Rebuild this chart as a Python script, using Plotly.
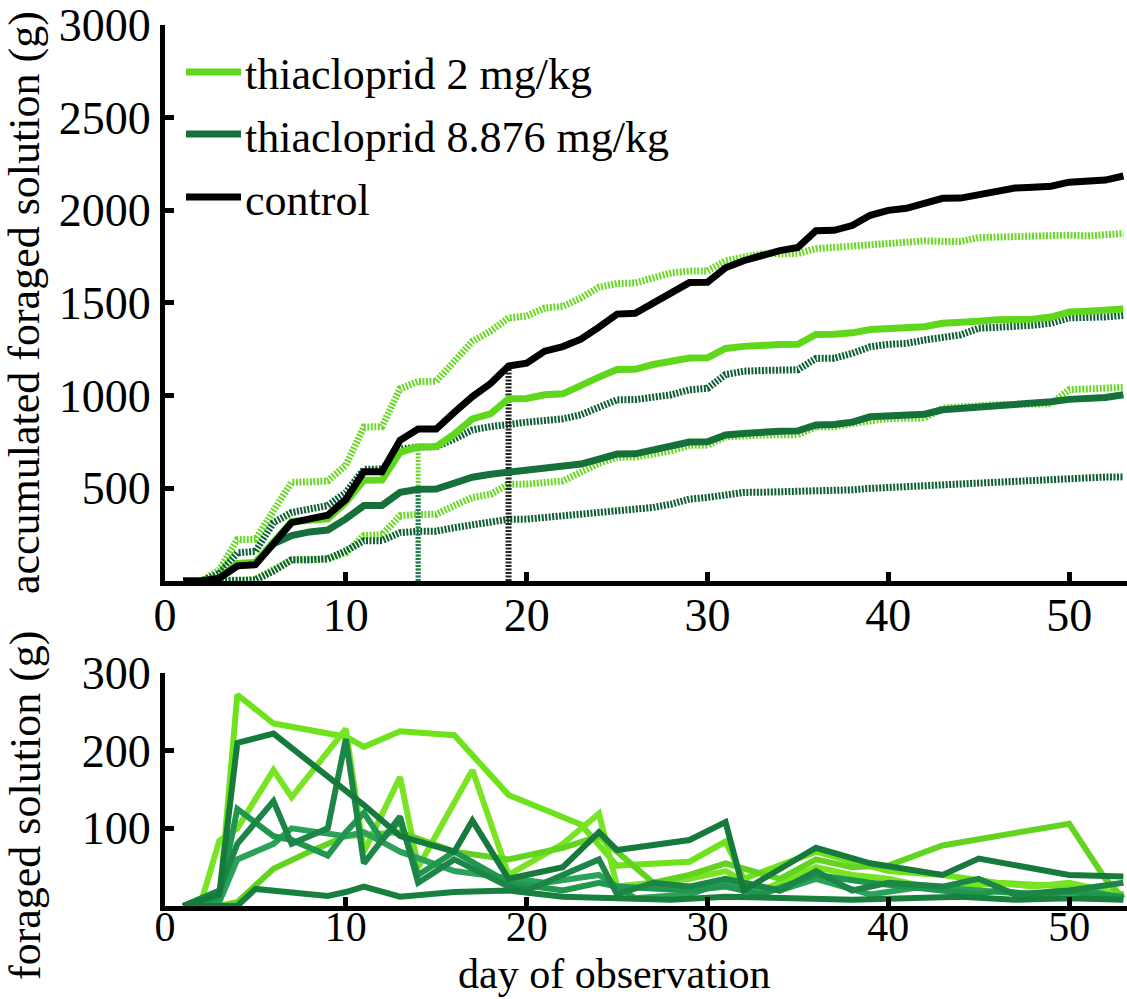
import plotly.graph_objects as go

# ---------------- data (top panel: accumulated foraged solution, g) ----------------
days = list(range(1, 54))

control = [0, 0, 15, 82, 88, 200, 315, 335, 355, 440, 590, 590, 760, 820, 820, 910, 995, 1065, 1160, 1175,
           1240, 1265, 1305, 1370, 1440, 1445, 1500, 1550, 1610, 1612, 1690, 1728, 1755, 1783, 1800, 1890,
           1892, 1918, 1973, 2000, 2011, 2038, 2065, 2066, 2082, 2103, 2120, 2125, 2130, 2152, 2153, 2163, 2185]

thia2 = [0, 0, 15, 95, 100, 210, 320, 328, 335, 424, 543, 545, 696, 723, 725, 793, 875, 902, 984, 985,
         1005, 1010, 1060, 1100, 1141, 1142, 1168, 1185, 1203, 1204, 1255, 1266, 1275, 1276, 1277, 1330,
         1331, 1339, 1357, 1364, 1368, 1372, 1391, 1392, 1402, 1410, 1411, 1412, 1424, 1451, 1456, 1460, 1467]

thia2_hi = [0, 0, 60, 223, 225, 380, 533, 535, 540, 625, 831, 833, 1038, 1076, 1078, 1185, 1293, 1348, 1420,
            1429, 1473, 1482, 1527, 1585, 1605, 1608, 1633, 1663, 1672, 1673, 1728, 1746, 1765, 1766, 1767,
            1793, 1800, 1810, 1820, 1824, 1830, 1835, 1832, 1832, 1853, 1857, 1860, 1861, 1870, 1866, 1862,
            1866, 1875]

thia2_lo = [0, 0, 0, 0, 10, 60, 114, 115, 118, 152, 245, 250, 353, 359, 360, 407, 451, 468, 522, 523, 530,
            540, 587, 635, 668, 669, 685, 703, 732, 733, 778, 787, 788, 789, 790, 832, 833, 850, 868, 877,
            878, 879, 933, 941, 950, 951, 952, 953, 957, 1032, 1038, 1039, 1045]

thia8 = [0, 0, 15, 80, 100, 200, 245, 265, 275, 335, 407, 408, 478, 495, 496, 532, 560, 576, 587, 596, 604,
         612, 631, 658, 685, 686, 706, 724, 750, 751, 788, 796, 805, 808, 810, 842, 845, 857, 886, 890, 893,
         900, 924, 930, 940, 948, 950, 952, 967, 980, 983, 990, 1005]

thia8_hi = [0, 0, 40, 152, 160, 315, 370, 390, 407, 478, 603, 604, 712, 723, 724, 766, 815, 833, 848, 857,
            866, 875, 897, 935, 978, 979, 990, 1005, 1032, 1040, 1114, 1132, 1136, 1138, 1140, 1201, 1202,
            1228, 1264, 1277, 1282, 1300, 1318, 1328, 1364, 1373, 1374, 1380, 1391, 1420, 1421, 1425, 1433]

thia8_lo = [0, 0, 0, 0, 5, 54, 114, 115, 120, 163, 217, 218, 261, 268, 269, 288, 306, 315, 333, 334, 342,
            350, 360, 370, 379, 380, 397, 415, 442, 451, 469, 478, 479, 480, 482, 487, 488, 492, 500, 505,
            510, 514, 523, 529, 532, 536, 537, 541, 547, 560, 560, 561, 562]

# days marked with vertical dotted lines
mark_thia = 14
mark_control = 19

# ---------------- data (bottom panel: daily foraged solution per colony, g) ----------------
col_t2_a_days = [1, 3, 4, 6, 10, 11, 13, 16, 19, 23, 25, 29, 31, 32, 36, 40, 43, 46, 50, 53]
col_t2_a_vals = [0, 5, 272, 235, 218, 205, 225, 220, 143, 105, 52, 57, 83, 35, 70, 45, 40, 30, 25, 15]

col_t2_b_days = [1, 2, 3, 4, 6, 7, 10, 11, 13, 14, 17, 19, 22, 24, 25, 27, 29, 31, 33, 36, 38, 40, 43, 46, 48, 50, 52, 53]
col_t2_b_vals = [0, 5, 84, 100, 175, 140, 228, 70, 166, 50, 175, 40, 80, 119, 25, 30, 35, 45, 20, 50, 40, 35, 20, 30, 25, 30, 20, 15]

col_t2_c_days = [1, 3, 4, 6, 8, 10, 13, 16, 19, 22, 24, 27, 29, 31, 34, 36, 38, 40, 43, 50, 52, 53]
col_t2_c_vals = [0, 0, 5, 48, 70, 90, 95, 70, 60, 75, 90, 30, 40, 55, 35, 60, 50, 52, 78, 106, 35, 10]

col_t8_a_days = [1, 3, 4, 6, 11, 13, 16, 17, 19, 22, 24, 25, 29, 31, 32, 36, 39, 43, 45, 46, 50, 53]
col_t8_a_vals = [0, 15, 210, 222, 130, 90, 70, 110, 35, 50, 95, 72, 85, 108, 20, 75, 55, 40, 61, 57, 40, 38]

col_t8_b_days = [1, 3, 4, 6, 7, 9, 10, 11, 13, 14, 16, 19, 20, 24, 25, 27, 29, 31, 34, 36, 38, 40, 43, 45, 47, 50, 53]
col_t8_b_vals = [0, 20, 80, 135, 80, 100, 215, 55, 115, 30, 60, 25, 20, 60, 15, 30, 25, 35, 20, 45, 20, 30, 25, 35, 15, 20, 30]

col_t8_c_days = [1, 3, 4, 6, 7, 9, 10, 11, 12, 13, 14, 16, 19, 22, 24, 25, 29, 31, 33, 36, 39, 41, 43, 45, 46, 48, 50, 53]
col_t8_c_vals = [0, 10, 125, 90, 85, 65, 95, 120, 85, 110, 40, 70, 30, 20, 30, 25, 20, 25, 15, 40, 30, 25, 20, 15, 20, 15, 18, 12]

col_t8_d_days = [1, 3, 4, 5, 9, 10, 11, 13, 16, 19, 22, 25, 28, 31, 35, 38, 41, 44, 47, 50, 53]
col_t8_d_vals = [0, 0, 0, 22, 13, 18, 25, 12, 18, 20, 12, 10, 8, 12, 10, 8, 10, 12, 8, 10, 8]

col_t8_e_days = [1, 3, 4, 6, 7, 10, 11, 13, 16, 19, 21, 24, 26, 29, 31, 34, 36, 39, 42, 45, 48, 51, 53]
col_t8_e_vals = [0, 5, 60, 80, 100, 90, 95, 70, 45, 35, 30, 40, 10, 15, 30, 20, 35, 15, 25, 20, 15, 20, 10]

legend_labels = ["thiacloprid 2 mg/kg", "thiacloprid 8.876 mg/kg", "control"]
x_ticks = [0, 10, 20, 30, 40, 50]
top_y_ticks = [500, 1000, 1500, 2000, 2500, 3000]
bot_y_ticks = [100, 200, 300]

# ---------------- styles ----------------
LIGHT = "#5fd81c"
DARK = "#16703a"
LIGHT_DOT = "#6cd82a"
DARK_DOT = "#0f5f35"
BLACK = "#000000"
FONT = "Liberation Serif, Times New Roman, Times, serif"
DOT = "2px,1.5px"

fig = go.Figure()

def top_line(x, y, color, width, dash="solid"):
    fig.add_trace(go.Scatter(x=x, y=y, mode="lines", xaxis="x", yaxis="y", showlegend=False,
                             line=dict(color=color, width=width, dash=dash), hoverinfo="skip"))

# bounds (dotted)
top_line(days, thia2_hi, LIGHT_DOT, 7, DOT)
top_line(days, thia2_lo, LIGHT_DOT, 7, DOT)
top_line(days, thia8_hi, DARK_DOT, 7, DOT)
top_line(days, thia8_lo, DARK_DOT, 7, DOT)
# vertical markers
top_line([mark_thia, mark_thia], [0, thia2[mark_thia - 1]], LIGHT_DOT, 5, DOT)
top_line([mark_thia, mark_thia], [0, thia8[mark_thia - 1]], "#1f7a55", 5, DOT)
top_line([mark_control, mark_control], [0, control[mark_control - 1]], "#222222", 6, DOT)
# means
top_line(days, thia8, DARK, 7)
top_line(days, thia2, LIGHT, 7)
top_line(days, control, BLACK, 7)

# bottom panel
bottom = [
    (col_t2_a_days, col_t2_a_vals, "#6ee21a"),
    (col_t2_b_days, col_t2_b_vals, "#78e424"),
    (col_t2_c_days, col_t2_c_vals, "#62d420"),
    (col_t8_e_days, col_t8_e_vals, "#2aa25a"),
    (col_t8_c_days, col_t8_c_vals, "#21964f"),
    (col_t8_b_days, col_t8_b_vals, "#1b8645"),
    (col_t8_d_days, col_t8_d_vals, "#17803f"),
    (col_t8_a_days, col_t8_a_vals, "#157a3b"),
]
for xd, yd, c in bottom:
    fig.add_trace(go.Scatter(x=xd, y=yd, mode="lines", xaxis="x2", yaxis="y2", showlegend=False,
                             line=dict(color=c, width=6), hoverinfo="skip"))

axis_common = dict(showline=True, linewidth=5, linecolor="black", ticks="inside", ticklen=9,
                   tickwidth=5, tickcolor="black", showgrid=False, zeroline=False, automargin=False)

def tf(size):
    return dict(family=FONT, size=size, color="black")

fig.update_layout(
    width=1127, height=999,
    margin=dict(l=165, r=0, t=0, b=0),
    paper_bgcolor="white", plot_bgcolor="white",
    showlegend=False,
    xaxis=dict(domain=[0, 1], anchor="y", range=[0, 53.2], tickvals=x_ticks, ticklabelstandoff=-10,
               tickfont=tf(46), **axis_common),
    yaxis=dict(domain=[0.4184, 0.975], anchor="x", range=[0, 3000], tickvals=top_y_ticks,
               tickfont=tf(46), **axis_common),
    xaxis2=dict(domain=[0, 1], anchor="y2", range=[0, 53.2], tickvals=x_ticks, ticklabelstandoff=-20,
                tickfont=tf(42), **axis_common),
    yaxis2=dict(domain=[0.0931, 0.3263], anchor="x2", range=[0, 300], tickvals=bot_y_ticks,
                tickfont=tf(46), **axis_common),
)

W = 1127 - 165
H = 999

def px_x(p):
    return (p - 165) / W

def px_y(p):
    return 1 - p / H

# manual legend
leg_rows = [(72, LIGHT), (134, DARK), (197, BLACK)]
for (ry, col), lab in zip(leg_rows, legend_labels):
    fig.add_shape(type="line", xref="paper", yref="paper", x0=px_x(186), x1=px_x(241),
                  y0=px_y(ry), y1=px_y(ry), line=dict(color=col, width=7))
    fig.add_annotation(xref="paper", yref="paper", x=px_x(243), y=px_y(ry + 3), text=lab,
                       showarrow=False, xanchor="left", yanchor="middle", font=tf(44))

# axis titles
fig.add_annotation(xref="paper", yref="paper", x=px_x(25), y=px_y(303),
                   text="accumulated foraged solution (g)", textangle=-90, showarrow=False,
                   xanchor="center", yanchor="middle", font=tf(44))
fig.add_annotation(xref="paper", yref="paper", x=px_x(25), y=px_y(806),
                   text="foraged solution (g)", textangle=-90, showarrow=False,
                   xanchor="center", yanchor="middle", font=tf(44))
fig.add_annotation(xref="paper", yref="paper", x=px_x(614), y=0, yanchor="bottom",
                   text="day of observation", showarrow=False,
                   xanchor="center", font=tf(42))

fig.write_html("out.html")
